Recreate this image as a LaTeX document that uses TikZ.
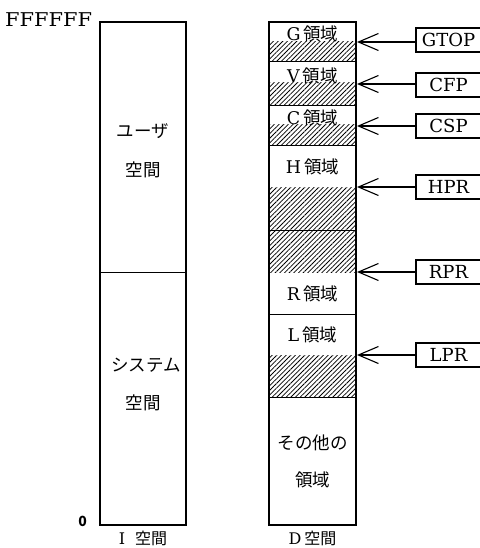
\documentclass[tikz,border=0pt]{standalone}
\usepackage{fontspec}
\setmainfont{DejaVu Serif}
\newfontfamily\jp{Noto Sans CJK JP}
\usetikzlibrary{patterns.meta,arrows.meta}
\newcommand\jtext[1]{{\jp #1}}
\begin{document}
\begin{tikzpicture}[x=1pt,y=-1pt,
  frame/.style={line width=1.4pt},
  divider/.style={line width=1pt},
  hatch/.style={pattern={Lines[angle=45,distance=3.3pt,line width=0.75pt]}},
  lbl/.style={inner sep=0pt,font=\fontsize{17.5}{17.5}\selectfont},
  jlbl/.style={inner sep=0pt,font=\jp\fontsize{17.5}{17.5}\selectfont},
  reg/.style={draw,line width=1.3pt,minimum width=65pt,minimum height=24pt,inner sep=0pt,font=\fontsize{18}{18}\selectfont},
  arr/.style={line width=1.2pt,-{Straight Barb[length=20pt,width=17pt,line width=1.1pt]}}]
\useasboundingbox (0,0) rectangle (479,548);
% hatched parts of D space
\fill[hatch] (269,42) rectangle (356,62);
\fill[hatch] (269,83) rectangle (356,106);
\fill[hatch] (269,125) rectangle (356,146);
\fill[hatch] (269,187) rectangle (356,272);
\fill[hatch] (269,355) rectangle (356,397);
% I space
\draw[frame] (100,22) rectangle (186,525);
\draw[divider] (100,272) -- (186,272);
% D space
\draw[frame] (269,22) rectangle (356,525);
\foreach \yy in {62,106,146,230,314,397}
  \draw[divider] (269,\yy) -- (356,\yy);
% labels left
\node[inner sep=0pt,anchor=west,xscale=1.1,font=\fontsize{19}{19}\selectfont] (top) at (5,20) {FFFFFF};
\node[inner sep=0pt,anchor=south east,font=\jp\bfseries\fontsize{14}{14}\selectfont] (zero) at (87,527) {0};
\node[jlbl] (user1) at (143,131) {ユーザ};
\node[jlbl] (user2) at (143,170) {空間};
\node[jlbl] (sys1) at (146,365) {システム};
\node[jlbl] (sys2) at (143,403) {空間};
\node[inner sep=0pt,font=\fontsize{16}{16}\selectfont] (ispace) at (143,538.5) {I\hspace{10pt}\jtext{空間}};
% labels right
\node[lbl] (g) at (312.5,34) {G\hspace{3pt}\jtext{領域}};
\node[lbl] (v) at (312.5,76) {V\hspace{3pt}\jtext{領域}};
\node[lbl] (c) at (312.5,118) {C\hspace{3pt}\jtext{領域}};
\node[lbl] (h) at (312.5,167) {H\hspace{3pt}\jtext{領域}};
\node[lbl] (r) at (312.5,294) {R\hspace{3pt}\jtext{領域}};
\node[lbl] (l) at (312.5,335) {L\hspace{3pt}\jtext{領域}};
\node[jlbl] (o1) at (312.5,443) {その他の};
\node[jlbl] (o2) at (312.5,480) {領域};
\node[inner sep=0pt,font=\fontsize{16}{16}\selectfont] (dspace) at (312.5,538.5) {D\hspace{3pt}\jtext{空間}};
% pointers
\coordinate (tg) at (357,42);
\coordinate (tv) at (357,84);
\coordinate (tc) at (357,126);
\coordinate (th) at (357,187);
\coordinate (tr) at (357,272);
\coordinate (tl) at (357,355);
\node[reg] (gtop) at (448.5,40) {GTOP};
\node[reg] (cfp) at (448.5,85) {CFP};
\node[reg] (csp) at (448.5,126) {CSP};
\node[reg] (hpr) at (448.5,187) {HPR};
\node[reg] (rpr) at (448.5,272) {RPR};
\node[reg] (lpr) at (448.5,355) {LPR};
\draw[arr] (gtop.west|-tg) -- (tg);
\draw[arr] (cfp.west|-tv) -- (tv);
\draw[arr] (csp.west|-tc) -- (tc);
\draw[arr] (hpr.west|-th) -- (th);
\draw[arr] (rpr.west|-tr) -- (tr);
\draw[arr] (lpr.west|-tl) -- (tl);
\end{tikzpicture}
\end{document}
